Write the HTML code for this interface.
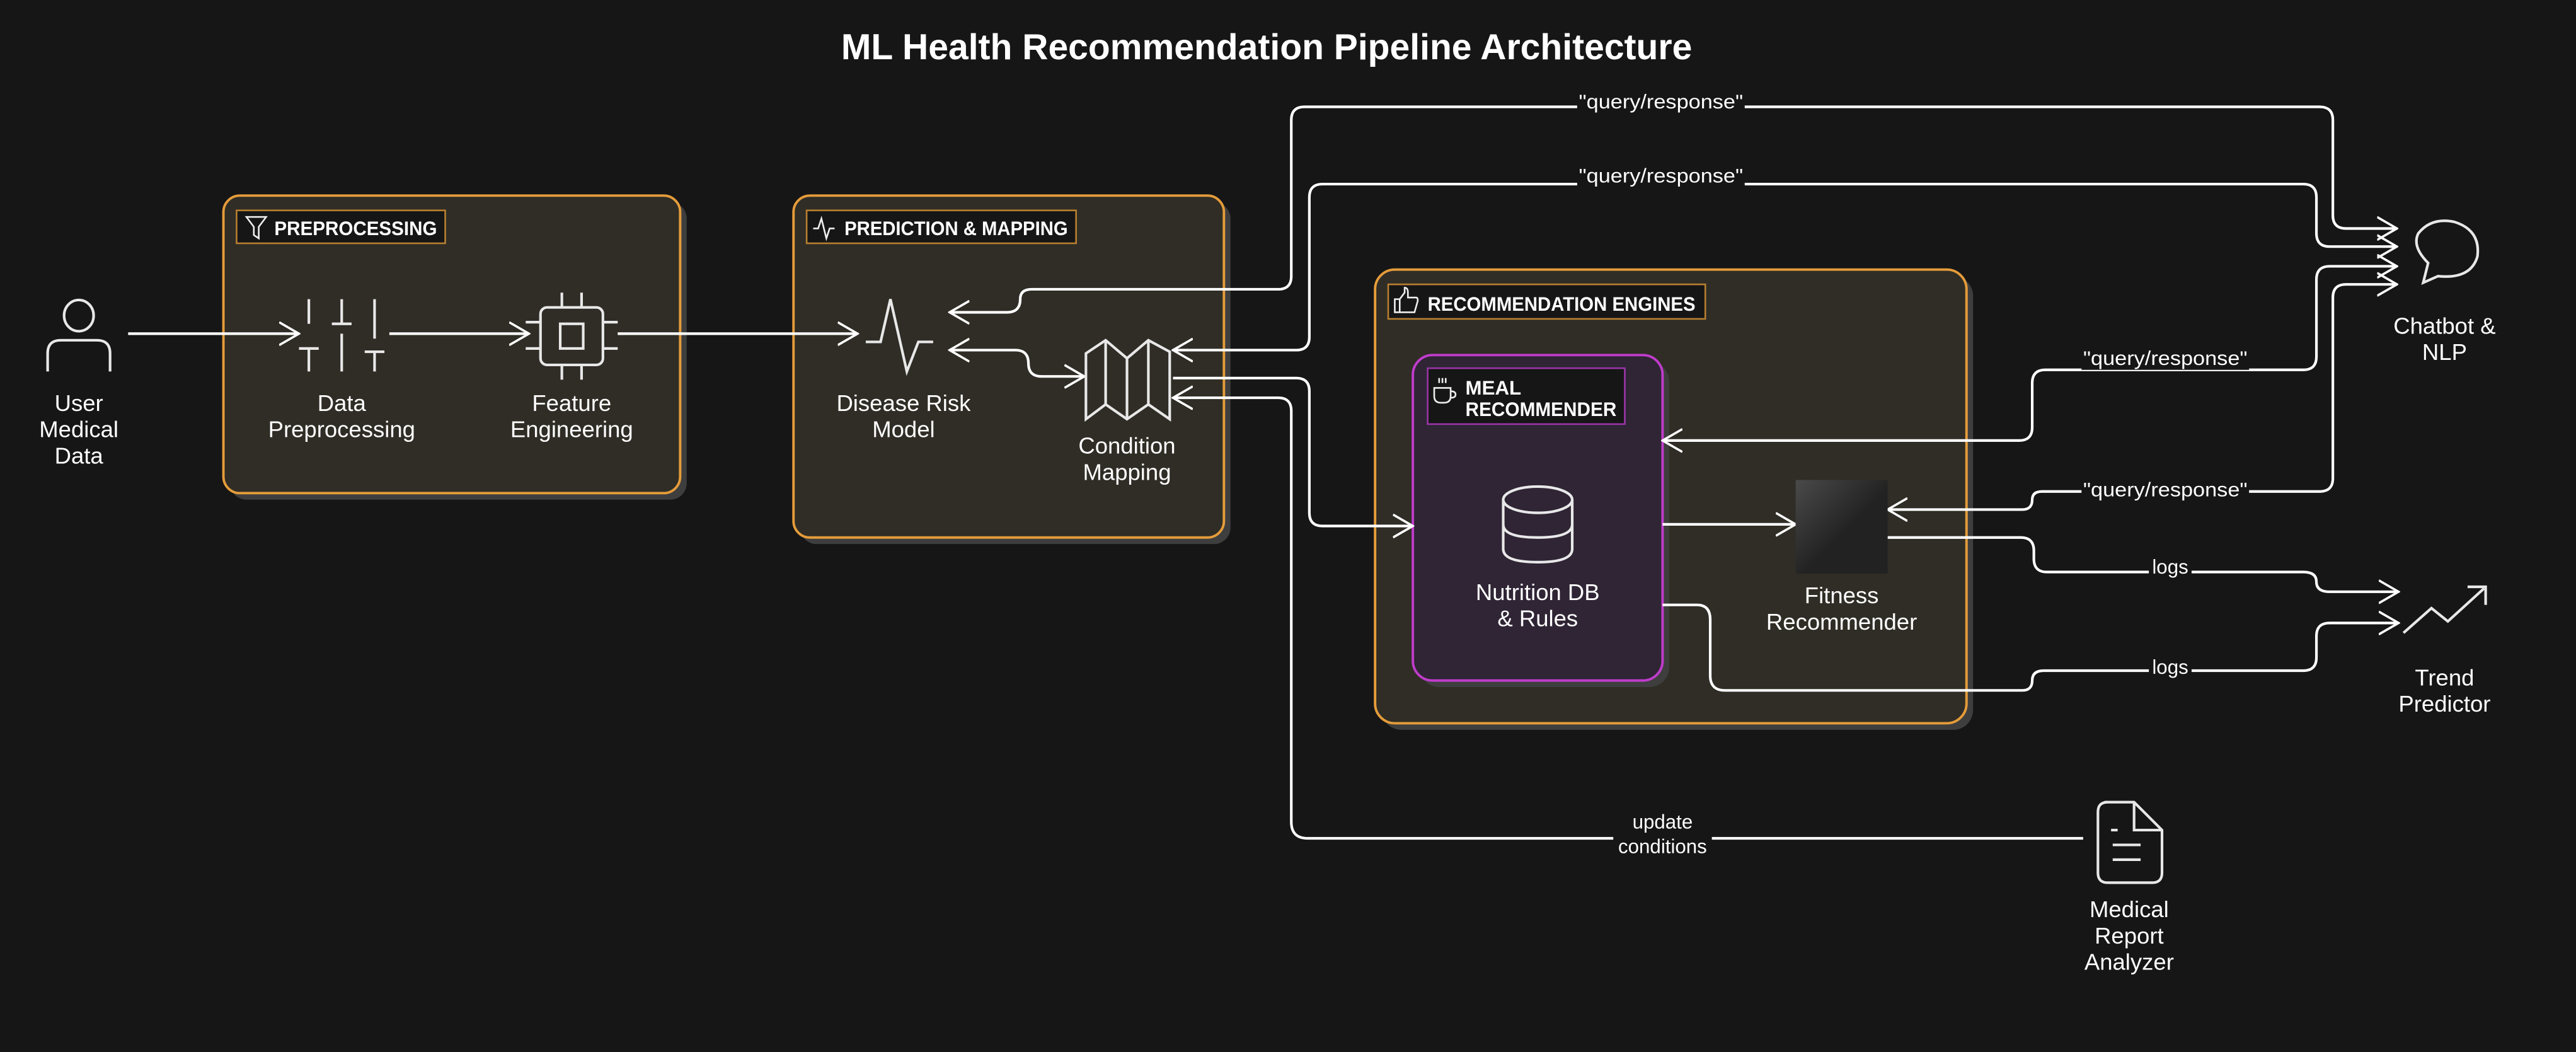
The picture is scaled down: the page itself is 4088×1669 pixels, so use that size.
<!DOCTYPE html>
<html><head><meta charset="utf-8">
<style>
html,body{margin:0;padding:0;background:#161616;}
svg{display:block;}
text{font-family:"Liberation Sans",sans-serif;fill:#ffffff;}
</style></head>
<body>
<svg width="4088" height="1669" viewBox="0 0 1568 640" preserveAspectRatio="none" xmlns="http://www.w3.org/2000/svg">
<defs>
<marker id="ae" viewBox="0 0 14 16" refX="13" refY="8" markerWidth="13" markerHeight="15" markerUnits="userSpaceOnUse" orient="auto">
<path d="M0,0.5 L13,8 L0,15.5" fill="none" stroke="#fff" stroke-width="1.5"/>
</marker>
<marker id="as" viewBox="0 0 14 16" refX="1" refY="8" markerWidth="13" markerHeight="15" markerUnits="userSpaceOnUse" orient="auto">
<path d="M14,0.5 L1,8 L14,15.5" fill="none" stroke="#fff" stroke-width="1.5"/>
</marker>
<linearGradient id="fg" x1="0" y1="0" x2="1" y2="1">
<stop offset="0" stop-color="#4a4a4a"/><stop offset="0.55" stop-color="#222"/><stop offset="1" stop-color="#222"/>
</linearGradient>
</defs>
<rect width="1568" height="640" fill="#161616"/>
<text x="771" y="36" text-anchor="middle" font-size="22" font-weight="bold" textLength="518" lengthAdjust="spacingAndGlyphs">ML Health Recommendation Pipeline Architecture</text>

<!-- groups -->
<rect x="140" y="123" width="278" height="181" rx="10" fill="#3e3e3e"/>
<rect x="136" y="119" width="278" height="181" rx="10" fill="#302d26" stroke="#e59c3a" stroke-width="1.5"/>
<rect x="144" y="128" width="127" height="20" fill="#161616" stroke="#b87f30" stroke-width="1"/>
<path d="M150,132 h12 l-4.5,6 v7 l-3,-2 v-5z" fill="none" stroke="#eee" stroke-width="1"/>
<text x="167" y="143" font-size="12" font-weight="bold" textLength="99" lengthAdjust="spacingAndGlyphs">PREPROCESSING</text>

<rect x="487" y="123" width="262" height="208" rx="10" fill="#3e3e3e"/>
<rect x="483" y="119" width="262" height="208" rx="10" fill="#302d26" stroke="#e59c3a" stroke-width="1.5"/>
<rect x="491" y="128" width="164" height="20" fill="#161616" stroke="#b87f30" stroke-width="1"/>
<path d="M495,139 h3 l2,-6 l3,12 l2,-6 h3" fill="none" stroke="#eee" stroke-width="1"/>
<text x="514" y="143" font-size="12" font-weight="bold" textLength="136" lengthAdjust="spacingAndGlyphs">PREDICTION &amp; MAPPING</text>

<rect x="841" y="168" width="360" height="276" rx="12" fill="#3e3e3e"/>
<rect x="837" y="164" width="360" height="276" rx="12" fill="#302d26" stroke="#e59c3a" stroke-width="1.5"/>
<rect x="845" y="173" width="193" height="21" fill="#161616" stroke="#b87f30" stroke-width="1"/>
<path d="M849,190 v-8 h3 v8z M852,182 l3,-4 v-3 q2,0 2,3 v3 h5 q1,0 1,2 l-2,7 h-9" fill="none" stroke="#eee" stroke-width="1"/>
<text x="869" y="189" font-size="12" font-weight="bold" textLength="163" lengthAdjust="spacingAndGlyphs">RECOMMENDATION ENGINES</text>

<rect x="864" y="220" width="152" height="198" rx="12" fill="#3e3e3e"/>
<rect x="860" y="216" width="152" height="198" rx="12" fill="#2f2535" stroke="#c03ccc" stroke-width="1.5"/>
<rect x="869" y="224" width="120" height="34" fill="#161616" stroke="#9a35a8" stroke-width="1"/>
<path d="M873,236 h10 v5 q0,4 -4,4 h-2 q-4,0 -4,-4z M883,238 q3,0 3,2 q0,2 -3,2 M876,230 v3 M878,230 v3 M880,230 v3" fill="none" stroke="#eee" stroke-width="1"/>
<text x="892" y="240" font-size="12" font-weight="bold">MEAL</text>
<text x="892" y="253" font-size="12" font-weight="bold" textLength="92" lengthAdjust="spacingAndGlyphs">RECOMMENDER</text>

<!-- connectors -->
<g fill="none" stroke="#fff" stroke-width="1.6">
<path d="M78,203 H182" marker-end="url(#ae)"/>
<path d="M237,203 H322" marker-end="url(#ae)"/>
<path d="M376,203 H522" marker-end="url(#ae)"/>
<path d="M578,190 H613 Q621,190 621,182 Q621,176 628,176 H778 Q786,176 786,168 V73 Q786,65 794,65 H1412 Q1420,65 1420,73 V131 Q1420,139 1428,139 H1459" marker-start="url(#as)" marker-end="url(#ae)"/>
<path d="M714,213 H789 Q797,213 797,205 V120 Q797,112 805,112 H1402 Q1410,112 1410,120 V142 Q1410,150 1418,150 H1459" marker-start="url(#as)" marker-end="url(#ae)"/>
<path d="M578,213 H618 Q626,213 626,221 Q626,229 634,229 H660" marker-start="url(#as)" marker-end="url(#ae)"/>
<path d="M714,230 H789 Q797,230 797,238 V312 Q797,320 805,320 H860" marker-end="url(#ae)"/>
<path d="M714,242 H778 Q786,242 786,250 V500 Q786,510 796,510 H1268" marker-start="url(#as)"/>
<path d="M1012,268 H1229 Q1237,268 1237,260 V233 Q1237,225 1245,225 H1402 Q1410,225 1410,217 V170 Q1410,162 1418,162 H1459" marker-start="url(#as)" marker-end="url(#ae)"/>
<path d="M1149,310 H1231 Q1237,310 1237,304 Q1237,299 1243,299 H1412 Q1420,299 1420,291 V181 Q1420,173 1428,173 H1459" marker-start="url(#as)" marker-end="url(#ae)"/>
<path d="M1012,319 H1093" marker-end="url(#ae)"/>
<path d="M1149,327 H1230 Q1238,327 1238,335 V340 Q1238,348 1246,348 H1402 Q1410,348 1410,354 Q1410,360 1418,360 H1460" marker-end="url(#ae)"/>
<path d="M1012,368 H1033 Q1041,368 1041,377 V411 Q1041,420 1050,420 H1231 Q1237,420 1237,414 Q1237,408 1244,408 H1402 Q1410,408 1410,400 V387 Q1410,379 1418,379 H1460" marker-end="url(#ae)"/>
</g>

<!-- edge labels -->
<g font-size="12" text-anchor="middle">
<rect x="960" y="56" width="102" height="13" fill="#161616"/><text x="1011" y="66" textLength="100" lengthAdjust="spacingAndGlyphs">"query/response"</text>
<rect x="960" y="101" width="102" height="13" fill="#161616"/><text x="1011" y="111" textLength="100" lengthAdjust="spacingAndGlyphs">"query/response"</text>
<rect x="1267" y="212" width="102" height="13" fill="#161616"/><text x="1318" y="222" textLength="100" lengthAdjust="spacingAndGlyphs">"query/response"</text>
<rect x="1267" y="292" width="102" height="13" fill="#161616"/><text x="1318" y="302" textLength="100" lengthAdjust="spacingAndGlyphs">"query/response"</text>
<rect x="1308" y="340" width="26" height="12" fill="#161616"/><text x="1321" y="349">logs</text>
<rect x="1308" y="400" width="26" height="12" fill="#161616"/><text x="1321" y="410">logs</text>
<rect x="982" y="492" width="60" height="30" fill="#161616"/><text x="1012" y="504">update</text><text x="1012" y="519">conditions</text>
</g>

<!-- icons -->
<g fill="none" stroke="#e8e8e8" stroke-width="1.6">
<ellipse cx="48" cy="192" rx="9" ry="9.5"/>
<path d="M29,226 V215 Q29,207 37,207 H59 Q67,207 67,215 V226"/>
<path d="M188,182 V197 M182,212 H194 M188,212 V226 M208,182 V197 M202,197 H214 M208,203 V226 M228,182 V206 M222,214 H234 M228,214 V226"/>
<rect x="329" y="187" width="38" height="35" rx="4"/>
<rect x="341" y="197" width="14" height="15"/>
<path d="M342,178 V187 M354,178 V187 M342,222 V231 M354,222 V231 M320,196 H329 M320,212 H329 M367,196 H376 M367,212 H376"/>
<path d="M527,208 H536 L542,182 L552,226 L559,208 H568"/>
<path d="M661,215 L673,207 L686,218 L699,207 L712,214 V255 L699,246 L686,255 L673,246 L661,255 Z M673,207 V246 M686,218 V255 M699,207 V246"/>
<ellipse cx="936" cy="304" rx="21" ry="8"/>
<path d="M915,304 V334 Q915,342 936,342 Q957,342 957,334 V304 M915,319 Q915,327 936,327 Q957,327 957,319"/>
<path d="M1475,172 L1478,160 Q1468,150 1472,142 Q1480,132 1494,135 Q1510,140 1508,156 Q1504,170 1484,168 Z"/>
<path d="M1463,385 L1480,370 L1490,378 L1512,358 M1502,357 H1513 V368"/>
<path d="M1281,488 H1299 L1316,505 V531 Q1316,537 1310,537 H1283 Q1277,537 1277,531 V494 Q1277,488 1283,488 Z M1299,488 V505 H1316 M1285,505 H1289 M1286,514 H1303 M1286,523 H1303"/>
</g>
<rect x="1093" y="292" width="56" height="57" fill="url(#fg)"/>

<!-- node labels -->
<g font-size="14" text-anchor="middle">
<text x="48" y="250">User</text><text x="48" y="266">Medical</text><text x="48" y="282">Data</text>
<text x="208" y="250">Data</text><text x="208" y="266">Preprocessing</text>
<text x="348" y="250">Feature</text><text x="348" y="266">Engineering</text>
<text x="550" y="250">Disease Risk</text><text x="550" y="266">Model</text>
<text x="686" y="276">Condition</text><text x="686" y="292">Mapping</text>
<text x="936" y="365">Nutrition DB</text><text x="936" y="381">&amp; Rules</text>
<text x="1121" y="367">Fitness</text><text x="1121" y="383">Recommender</text>
<text x="1488" y="203">Chatbot &amp;</text><text x="1488" y="219">NLP</text>
<text x="1488" y="417">Trend</text><text x="1488" y="433">Predictor</text>
<text x="1296" y="558">Medical</text><text x="1296" y="574">Report</text><text x="1296" y="590">Analyzer</text>
</g>
</svg>
</body></html>
